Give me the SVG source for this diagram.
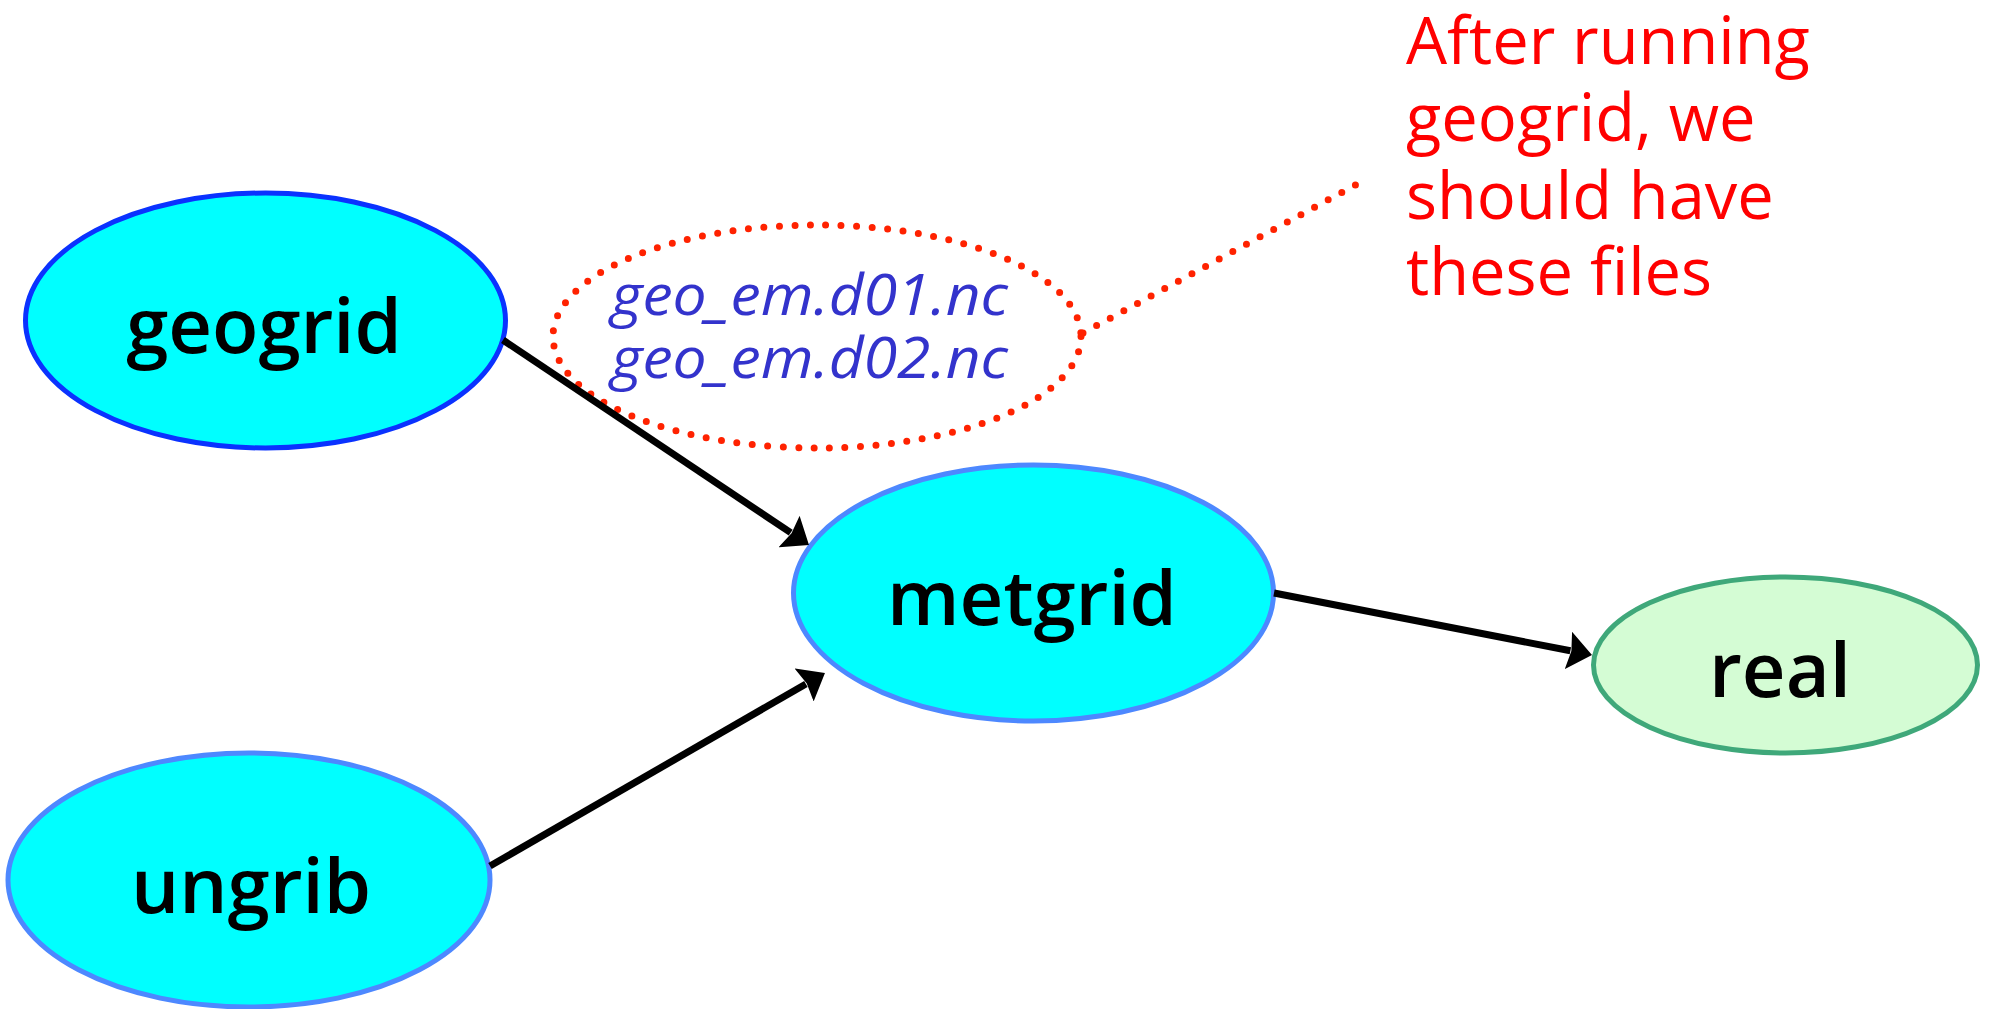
<svg xmlns="http://www.w3.org/2000/svg" width="1989" height="1009" viewBox="0 0 1989 1009">
<style>
.node{stroke-width:5}
.cyan{fill:#00ffff}
.lbl{font-family:"Open Sans","DejaVu Sans",sans-serif;font-weight:600;font-size:76px;fill:#000;text-anchor:middle}
.file{font-family:"Open Sans","DejaVu Sans",sans-serif;font-style:italic;font-size:56px;fill:#3333cc}
.note{font-family:"Open Sans","DejaVu Sans",sans-serif;font-size:65px;fill:#ff0000}
.dots{fill:none;stroke:#ff2200;stroke-width:7;stroke-linecap:round;stroke-dasharray:0 15.5}
.edge{stroke:#000;stroke-width:7;fill:none;marker-end:url(#arr)}
</style>
<defs>
<marker id="arr" viewBox="0 0 24 38" refX="2" refY="19" markerWidth="24" markerHeight="38" markerUnits="userSpaceOnUse" orient="auto">
<path d="M0,0 L24,19 L0,38 L3,19 z" fill="#000"/>
</marker>
</defs>
<rect width="1989" height="1009" fill="#fff"/>
<g id="geogrid">
<ellipse class="node cyan" cx="265.5" cy="320.5" rx="240" ry="127.5" stroke="#0a32ff"/>
<text class="lbl" x="264" y="353">geogrid</text>
</g>
<g id="metgrid">
<ellipse class="node cyan" cx="1033.5" cy="593" rx="240" ry="128" stroke="#4d88ff"/>
<text class="lbl" x="1032" y="625">metgrid</text>
</g>
<g id="ungrib">
<ellipse class="node cyan" cx="249" cy="880" rx="241" ry="127" stroke="#4d88ff"/>
<text class="lbl" x="251" y="913">ungrib</text>
</g>
<g id="real">
<ellipse class="node" cx="1785.5" cy="665" rx="192" ry="88" fill="#d4fcd4" stroke="#3fa87a"/>
<text class="lbl" x="1780" y="697">real</text>
</g>
<g id="files">
<ellipse class="dots" cx="817" cy="336.5" rx="264" ry="111.5"/>
<text class="file" x="611" y="315" textLength="397" lengthAdjust="spacingAndGlyphs">geo_em.d01.nc</text>
<text class="file" x="611" y="378" textLength="397" lengthAdjust="spacingAndGlyphs">geo_em.d02.nc</text>
</g>
<g id="note">
<line class="dots" x1="1083" y1="333" x2="1361" y2="182"/>
<text class="note" x="1406" y="64">After running</text>
<text class="note" x="1406" y="141">geogrid, we</text>
<text class="note" x="1406" y="219">should have</text>
<text class="note" x="1406" y="295">these files</text>
</g>
<g id="connectors">
<line class="edge" x1="503" y1="340" x2="790.7" y2="532.7"/>
<line class="edge" x1="490" y1="866" x2="805.9" y2="684"/>
<line class="edge" x1="1274" y1="593" x2="1570.4" y2="650.8"/>
</g>
</svg>
